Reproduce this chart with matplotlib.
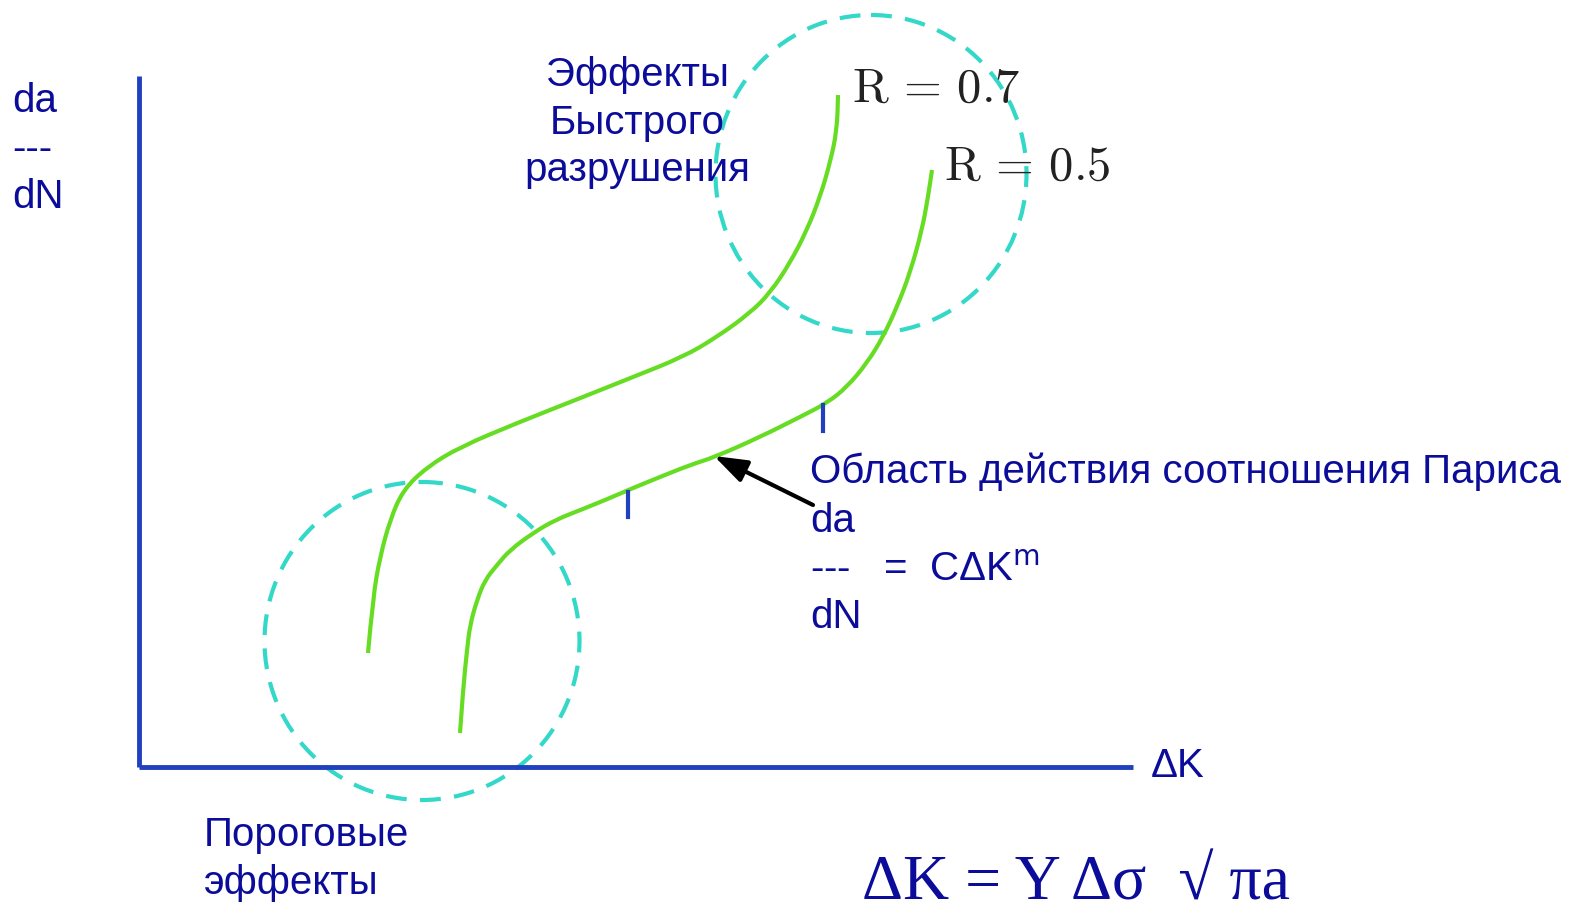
"""
Fatigue crack growth schematic: da/dN vs dK for two R ratios
"""

import matplotlib
matplotlib.use("Agg")
import matplotlib.pyplot as plt
from matplotlib.patches import Ellipse, PathPatch
from matplotlib.path import Path

# curves (canvas pixel frame, y pointing down)
r07_x = [368, 373, 380, 390, 403, 427, 460, 517, 583, 633, 683, 717, 750, 770, 790, 807, 820, 830, 837, 838]
r07_y = [653, 597, 557, 520, 490, 467, 447, 423, 397, 377, 357, 337, 313, 293, 263, 230, 197, 163, 130, 95]
r05_x = [460, 463, 467, 470, 477, 485, 497, 510, 533, 555, 583, 610, 633, 660, 690, 715, 760, 800, 827, 847,
         867, 883, 897, 910, 922, 928, 932]
r05_y = [733, 690, 650, 625, 600, 580, 565, 550, 533, 520, 509, 498, 488, 477, 465, 457, 437, 417, 403, 387,
         363, 337, 307, 273, 230, 197, 170]

# dashed circles: threshold region and fast fracture region
circle_centers = [(422, 641), (871, 174)]
circle_w = [315, 311]
circle_h = [318, 318]

# Paris region limits (small tick marks)
tick_x = [628, 823]
tick_top = [492, 405]
tick_bottom = [517, 431]

navy = "#0c0c9a"
axis_blue = "#2040c0"
green = "#66dd22"
cyan = "#33d8c8"


def smooth_path(xs, ys):
    # quadratic bezier through midpoints, read points used as control points
    pts = list(zip(xs, ys))
    verts = [pts[0]]
    codes = [Path.MOVETO]
    for i in range(1, len(pts) - 1):
        mid = ((pts[i][0] + pts[i + 1][0]) / 2, (pts[i][1] + pts[i + 1][1]) / 2)
        verts += [pts[i], mid]
        codes += [Path.CURVE3, Path.CURVE3]
    verts.append(pts[-1])
    codes.append(Path.LINETO)
    return Path(verts, codes)


fig = plt.figure(figsize=(15.79, 9.13), dpi=100)
ax = fig.add_axes([0, 0, 1, 1])
ax.set_xlim(0, 1579)
ax.set_ylim(913, 0)
ax.axis("off")

# axes of the diagram
ax.plot([139, 139], [76, 767], color=axis_blue, lw=3.5, solid_capstyle="butt")
ax.plot([139, 1133], [767, 767], color=axis_blue, lw=3.5, solid_capstyle="butt")

for c, w, h in zip(circle_centers, circle_w, circle_h):
    ax.add_patch(Ellipse(c, w, h, fill=False, ec=cyan, lw=3,
                         linestyle=(0, (5, 3.2))))

for xs, ys in [(r07_x, r07_y), (r05_x, r05_y)]:
    ax.add_patch(PathPatch(smooth_path(xs, ys), fill=False, ec=green, lw=3,
                           capstyle="butt", joinstyle="round"))

for x, t, b in zip(tick_x, tick_top, tick_bottom):
    ax.plot([x, x], [t, b], color=axis_blue, lw=3)

ax.annotate("", xy=(714, 456), xytext=(813, 505),
            arrowprops=dict(arrowstyle="-|>,head_length=2.0,head_width=0.7",
                            color="black", lw=3, shrinkA=0, shrinkB=0))

fs = 29
sans = "Liberation Sans"
ax.text(12, 112, "da", fontsize=fs, family=sans, color=navy)
ax.text(12, 160, "---", fontsize=fs, family=sans, color=navy)
ax.text(12, 208, "dN", fontsize=fs, family=sans, color=navy)

ax.text(637, 86, "Эффекты", fontsize=fs, family=sans, color=navy, ha="center")
ax.text(637, 134, "Быстрого", fontsize=fs, family=sans, color=navy, ha="center")
ax.text(637, 181, "разрушения", fontsize=fs, family=sans, color=navy, ha="center")

ax.text(204, 846, "Пороговые", fontsize=fs, family=sans, color=navy)
ax.text(204, 894, "эффекты", fontsize=fs, family=sans, color=navy)

ax.text(810, 483, "Область действия соотношения Париса", fontsize=fs, family=sans, color=navy)
ax.text(810, 532, "da", fontsize=fs, family=sans, color=navy)
ax.text(810, 581, "---   =  CΔK$^{\\mathrm{m}}$", fontsize=fs, family=sans, color=navy)
ax.text(810, 628, "dN", fontsize=fs, family=sans, color=navy)

ax.text(1151, 777, "ΔK", fontsize=fs, family=sans, color=navy)

plt.rcParams["mathtext.fontset"] = "cm"
ax.text(852, 102, r"$\mathrm{R}\,=\,0.7$", fontsize=35, color="#222222")
ax.text(944, 180, r"$\mathrm{R}\,=\,0.5$", fontsize=35, color="#222222")

ax.text(862, 899, "ΔK = Y Δσ  √ πa", fontsize=46, family="Liberation Serif", color=navy)

fig.savefig("out.png", dpi=100, facecolor="white")
